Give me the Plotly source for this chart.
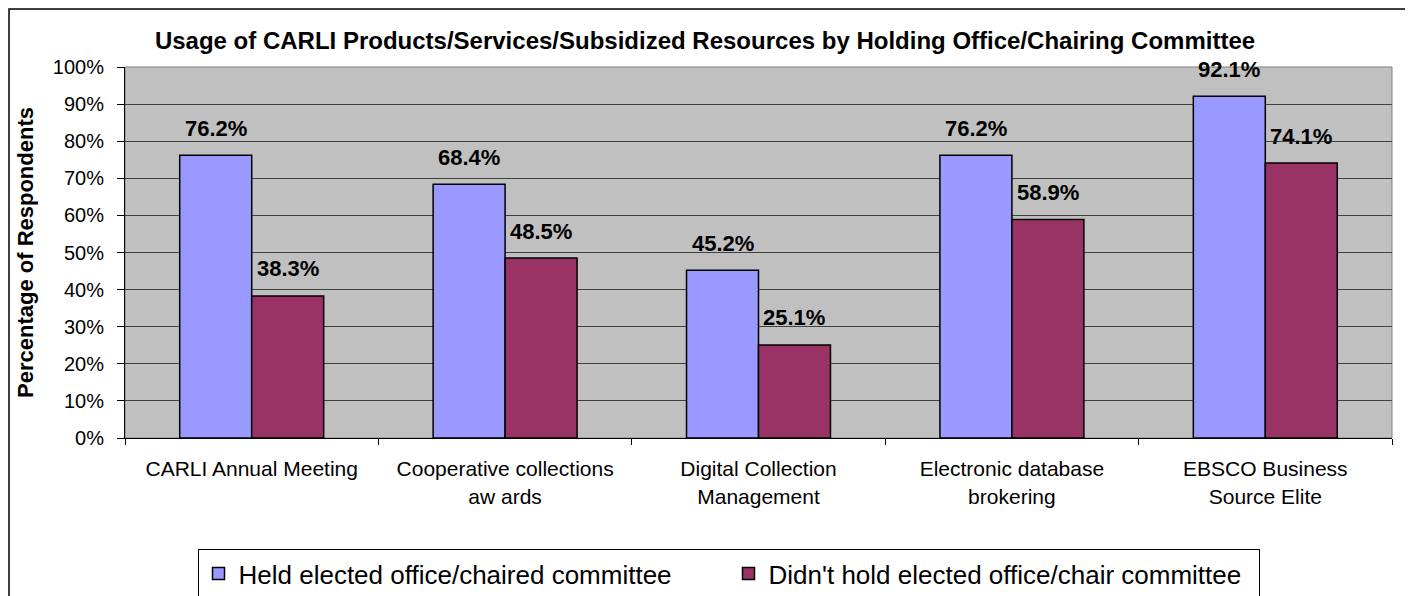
import plotly.graph_objects as go

categories = [
    "CARLI Annual Meeting",
    "Cooperative collections<br>aw ards",
    "Digital Collection<br>Management",
    "Electronic database<br>brokering",
    "EBSCO Business<br>Source Elite",
]
held = [76.2, 68.4, 45.2, 76.2, 92.1]
not_held = [38.3, 48.5, 25.1, 58.9, 74.1]
series_names = [
    "Held elected office/chaired committee",
    "Didn't hold elected office/chair committee",
]
y_ticks = [0, 10, 20, 30, 40, 50, 60, 70, 80, 90, 100]

FONT = "Liberation Sans, Arial, sans-serif"
BLUE = "#9999FF"
RED = "#993366"

OFF = 8  # page body margin offset
W, H = 1413, 596
# target page-pixel positions of the plot area
PL, PR, PT, PB = 125, 1392, 67, 438
L = PL - OFF
T = PT - OFF
plot_w = PR - PL
plot_h = PB - PT
R = W - L - plot_w
B = H - T - plot_h


def px_x(x):
    return (x - PL) / plot_w


def px_y(y):
    return (PB - y) / plot_h


fig = go.Figure()
for name, vals, col in [(series_names[0], held, BLUE), (series_names[1], not_held, RED)]:
    fig.add_trace(go.Bar(
        x=categories, y=vals, name=name,
        marker=dict(color=col, line=dict(color="black", width=1.5)),
        hoverinfo="x+y",
    ))

# data labels above bars
bar_px = plot_w / len(categories) * (1 - 0.432) / 2
for vals, shift in [(held, -bar_px / 2), (not_held, bar_px / 2)]:
    for c, v in zip(categories, vals):
        fig.add_annotation(
            x=c, y=v, text=f"<b>{v:.1f}%</b>", showarrow=False,
            xshift=shift, yshift=27, yanchor="middle", xanchor="center",
            font=dict(family=FONT, size=22, color="black"),
        )

# outer chart border
fig.add_shape(type="rect", xref="paper", yref="paper",
              x0=px_x(9), x1=px_x(1406), y0=px_y(620), y1=px_y(9),
              line=dict(color="black", width=1.5), fillcolor="rgba(0,0,0,0)", layer="below")
# plot area border (gray)
fig.add_shape(type="rect", xref="paper", yref="paper", x0=0, x1=1, y0=0, y1=1,
              line=dict(color="#808080", width=1), fillcolor="rgba(0,0,0,0)", layer="below")

fig.update_layout(
    width=W, height=H,
    margin=dict(l=L, r=R, t=T, b=B, autoexpand=False),
    paper_bgcolor="white",
    plot_bgcolor="#C0C0C0",
    barmode="group", bargap=0.432, bargroupgap=0,
    font=dict(family=FONT, color="black"),
    title=dict(
        text="<b>Usage of CARLI Products/Services/Subsidized Resources by Holding Office/Chairing Committee</b>",
        x=(705 - OFF) / W, xanchor="center", y=1 - (41 - OFF) / H, yanchor="middle",
        font=dict(family=FONT, size=24, color="black"),
    ),
    legend=dict(
        orientation="h", x=px_x(728.5), xanchor="center",
        y=px_y(549), yanchor="top",
        bordercolor="black", borderwidth=1, bgcolor="white",
        font=dict(family=FONT, size=26, color="black"),
        entrywidth=485, entrywidthmode="pixels",
    ),
    showlegend=True,
)
fig.update_xaxes(
    type="category", tickson="boundaries", ticks="outside", ticklen=6,
    tickcolor="black", showline=True, linecolor="black", linewidth=1,
    showgrid=False, tickfont=dict(family=FONT, size=21, color="black"),
    ticklabelstandoff=12,
)
fig.update_yaxes(
    range=[0, 100], tickvals=y_ticks, ticktext=[f"{v}%" for v in y_ticks],
    ticks="outside", ticklen=7, tickcolor="black",
    showline=True, linecolor="black", linewidth=1,
    showgrid=True, gridcolor="#404040", gridwidth=1,
    zeroline=False,
    tickfont=dict(family=FONT, size=20, color="black"),
    ticklabelstandoff=9,
    title=dict(text="<b>Percentage of Respondents</b>", font=dict(family=FONT, size=22, color="black"), standoff=13),
)

fig.write_html("out.html")
